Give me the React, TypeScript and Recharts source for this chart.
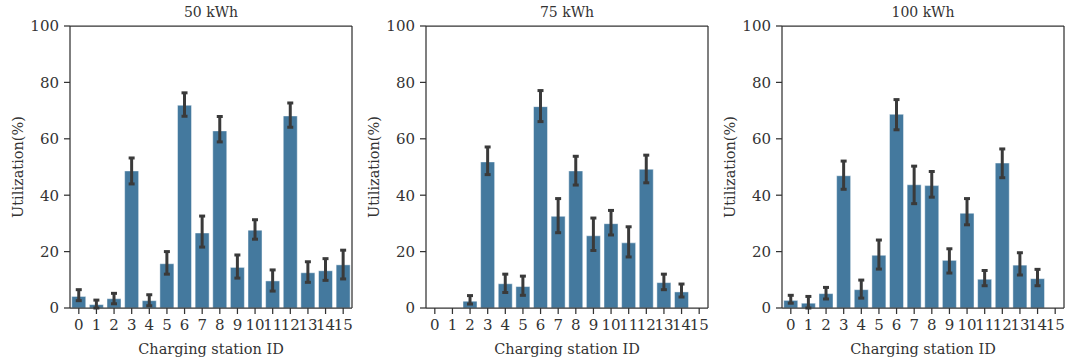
import React from 'react';
import { BarChart, Bar, XAxis, YAxis, ErrorBar } from 'recharts';

// charging station ids on the x axis
const stations = ['0', '1', '2', '3', '4', '5', '6', '7', '8', '9', '10', '11', '12', '13', '14', '15'];
const yTicks = [0, 20, 40, 60, 80, 100];

// 50 kWh: mean utilization and confidence interval ends
const mean50 = [4.1, 1.2, 3.3, 48.6, 2.6, 15.7, 71.9, 26.6, 62.8, 14.4, 27.6, 9.6, 68.1, 12.5, 13.2, 15.3];
const low50 = [2.6, 0.0, 1.5, 44.0, 0.8, 12.0, 68.0, 21.6, 58.9, 10.6, 24.4, 6.0, 64.1, 9.1, 9.8, 10.3];
const high50 = [6.5, 2.8, 5.2, 53.2, 4.7, 20.0, 76.3, 32.6, 67.9, 18.8, 31.3, 13.5, 72.7, 16.4, 17.5, 20.5];

// 75 kWh
const mean75 = [0, 0, 2.4, 51.8, 8.6, 7.6, 71.4, 32.5, 48.6, 25.6, 29.9, 23.1, 49.2, 9.0, 5.7, 0];
const low75 = [0, 0, 1.4, 47.3, 5.5, 4.5, 66.1, 26.7, 43.6, 20.4, 25.9, 18.1, 44.4, 6.5, 3.9, 0];
const high75 = [0, 0, 4.4, 57.1, 12.0, 11.3, 77.1, 38.8, 53.8, 31.9, 34.6, 28.8, 54.2, 12.0, 8.5, 0];

// 100 kWh
const mean100 = [2.7, 1.7, 5.1, 46.9, 6.5, 18.7, 68.7, 43.7, 43.4, 16.9, 33.6, 10.2, 51.4, 15.2, 10.4, 0];
const low100 = [1.7, 0.0, 3.2, 42.1, 3.5, 13.8, 63.2, 37.0, 39.3, 12.4, 29.5, 7.9, 46.2, 11.7, 7.9, 0];
const high100 = [4.5, 4.1, 7.3, 52.1, 9.9, 24.1, 73.9, 50.3, 48.4, 21.0, 38.8, 13.3, 56.4, 19.6, 13.7, 0];

const FONT = '"DejaVu Serif", serif';
const INK = '#333333';
const BAR = '#44799e';

const buildRows = (mean: number[], low: number[], high: number[]) =>
  stations.map((id, i) => ({
    id,
    value: mean[i],
    err: [mean[i] - low[i], high[i] - mean[i]],
  }));

const panels = [
  { title: '50 kWh', rows: buildRows(mean50, low50, high50), left: 0 },
  { title: '75 kWh', rows: buildRows(mean75, low75, high75), left: 356 },
  { title: '100 kWh', rows: buildRows(mean100, low100, high100), left: 712 },
];

const Y_AXIS_W = 70;
const PLOT = 282;
const CHART_W = Y_AXIS_W + PLOT + 3;
const CHART_H = 358;

const tickStyle = { fontFamily: FONT, fontSize: 15, fill: INK };
const labelStyle = { fontFamily: FONT, fontSize: 14.5, fill: INK };

const Panel = ({ title, rows }: { title: string; rows: any[] }) => (
  <div style={{ position: 'relative', width: CHART_W, height: CHART_H }}>
    <div
      style={{
        position: 'absolute',
        left: Y_AXIS_W,
        width: PLOT,
        top: 4,
        textAlign: 'center',
        fontFamily: FONT,
        fontSize: 14,
        color: INK,
      }}
    >
      {title}
    </div>
    <BarChart
      width={CHART_W}
      height={CHART_H}
      data={rows}
      margin={{ top: 25, right: 2, bottom: 0, left: 0 }}
      barCategoryGap="10%"
    >
      <XAxis
        dataKey="id"
        interval={0}
        tickSize={6}
        tickMargin={5}
        height={50}
        tick={tickStyle}
        stroke={INK}
        strokeWidth={1.25}
        tickLine={{ stroke: INK, strokeWidth: 1.25 }}
        label={{ value: 'Charging station ID', position: 'insideBottom', offset: 4, style: labelStyle }}
      />
      <XAxis xAxisId="top" dataKey="id" orientation="top" height={1} tick={false} tickLine={false} stroke={INK} strokeWidth={1.25} />
      <YAxis
        domain={[0, 100]}
        ticks={yTicks}
        width={Y_AXIS_W}
        tickSize={6}
        tickMargin={5}
        tick={tickStyle}
        stroke={INK}
        strokeWidth={1.25}
        tickLine={{ stroke: INK, strokeWidth: 1.25 }}
        label={{
          value: 'Utilization(%)',
          angle: -90,
          position: 'center',
          dx: -17,
          style: { ...labelStyle, textAnchor: 'middle' },
        }}
      />
      <YAxis yAxisId="right" orientation="right" domain={[0, 100]} width={1} tick={false} tickLine={false} stroke={INK} strokeWidth={1.25} />
      <Bar dataKey="value" fill={BAR} stroke="rgba(255,255,255,0.45)" strokeWidth={1} isAnimationActive={false}>
        <ErrorBar dataKey="err" direction="y" width={3} strokeWidth={3} stroke="#3a3a3a" />
      </Bar>
    </BarChart>
  </div>
);

export default function App() {
  return (
    <div style={{ position: 'absolute', left: 0, top: 0, width: 1065, height: 358, overflow: 'hidden', background: '#fff' }}>
      {panels.map((p) => (
        <div key={p.title} style={{ position: 'absolute', left: p.left, top: 0 }}>
          <Panel title={p.title} rows={p.rows} />
        </div>
      ))}
    </div>
  );
}
